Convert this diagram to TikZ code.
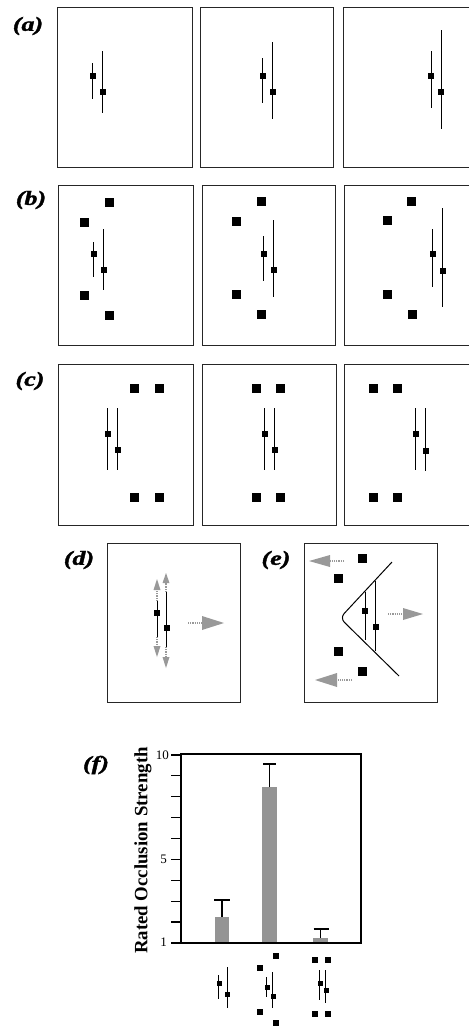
\documentclass[tikz,border=0pt]{standalone}
\usepackage{fontspec}
\setmainfont{Liberation Serif}
\newfontfamily\lblfont[FakeBold=1.5]{Liberation Serif}
\newcommand\sqs[3]{\fill (#1-#3/2,#2-#3/2) rectangle (#1+#3/2,#2+#3/2);}
\newcommand\plbl[1]{\scalebox{1.3}[1]{\fontsize{20}{20}\lblfont\bfseries\itshape #1}}
\tikzset{
  frame/.style={draw=black!85, line width=0.8pt},
  seg/.style={draw=black, line width=1pt},
  ghead/.style={fill=black!40},
  gshaft/.style={draw=black!40, densely dotted, line width=1.2pt},
  axisbox/.style={draw=black, line width=2.8pt},
  tick/.style={draw=black, line width=1.3pt},
  bar/.style={fill=black!42},
  err/.style={draw=black, line width=1.4pt},
  plabel/.style={inner sep=0pt}
}
\begin{document}
\begin{tikzpicture}[x=1pt,y=-1pt]
\useasboundingbox (0,0) rectangle (469,1028);
% ---------- labels ----------
\node[plabel] (la) at (28,26) {\plbl{(a)}};
\node[plabel] (lb) at (31,200) {\plbl{(b)}};
\node[plabel] (lc) at (30,381) {\plbl{(c)}};
\node[plabel] (ld) at (79,560) {\plbl{(d)}};
\node[plabel] (le) at (276,560) {\plbl{(e)}};
\node[plabel] (lf) at (96,765) {\plbl{(f)}};
% ---------- row (a) ----------
\draw[frame] (57,7) rectangle (192,167);
\draw[frame] (200,7) rectangle (333,167);
\draw[frame] (469,7) -- (343,7) -- (343,167) -- (469,167);
\draw[seg] (92,63) -- (92,99); \sqs{93}{76}{6}
\draw[seg] (102,51) -- (102,113); \sqs{103}{92}{6}
\draw[seg] (262,58) -- (262,103); \sqs{263}{76}{6}
\draw[seg] (272,42) -- (272,119); \sqs{273}{92}{6}
\draw[seg] (431,51) -- (431,108); \sqs{431}{76}{6}
\draw[seg] (441,30) -- (441,129); \sqs{441}{92}{6}
% ---------- row (b) ----------
\draw[frame] (58,185) rectangle (193,345);
\draw[frame] (202,185) rectangle (335,345);
\draw[frame] (469,185) -- (344,185) -- (344,345) -- (469,345);
\sqs{109}{202}{9} \sqs{84}{222}{9} \sqs{84}{295}{9} \sqs{109}{315}{9}
\draw[seg] (93,242) -- (93,277); \sqs{94}{254}{6}
\draw[seg] (103,229) -- (103,290); \sqs{104}{270}{6}
\sqs{261}{201}{9} \sqs{236}{221}{9} \sqs{236}{294}{9} \sqs{261}{314}{9}
\draw[seg] (263,236) -- (263,281); \sqs{264}{254}{6}
\draw[seg] (273,220) -- (273,297); \sqs{274}{270}{6}
\sqs{411}{201}{9} \sqs{387}{220}{9} \sqs{387}{294}{9} \sqs{412}{314}{9}
\draw[seg] (432,229) -- (432,287); \sqs{433}{254}{6}
\draw[seg] (442,208) -- (442,307); \sqs{443}{271}{6}
% ---------- row (c) ----------
\draw[frame] (58,364) rectangle (193,525);
\draw[frame] (202,364) rectangle (336,525);
\draw[frame] (469,364) -- (344,364) -- (344,525) -- (469,525);
\sqs{134}{388}{9} \sqs{159}{388}{9} \sqs{134}{497}{9} \sqs{159}{497}{9}
\draw[seg] (107,408) -- (107,470); \sqs{107.5}{434}{6}
\draw[seg] (117,408) -- (117,470); \sqs{117.5}{450}{6}
\sqs{256}{388}{9} \sqs{280}{388}{9} \sqs{256}{497}{9} \sqs{280}{497}{9}
\draw[seg] (264,408) -- (264,470); \sqs{264.5}{434}{6}
\draw[seg] (274,408) -- (274,470); \sqs{274.5}{450}{6}
\sqs{373}{388}{9} \sqs{397}{388}{9} \sqs{373}{497}{9} \sqs{397}{497}{9}
\draw[seg] (415,408) -- (415,470); \sqs{415.5}{434}{6}
\draw[seg] (425,408) -- (425,471); \sqs{425.5}{451}{6}
% ---------- panel (d) ----------
\draw[frame] (107,543) rectangle (240,702);
\draw[gshaft] (157,601) -- (157,590);
\fill[ghead] (157,579) -- (153.5,590) -- (160.5,590) -- cycle;
\draw[gshaft] (157,637) -- (157,646);
\fill[ghead] (157,657) -- (153.5,646) -- (160.5,646) -- cycle;
\draw[gshaft] (166,592) -- (166,583);
\fill[ghead] (166,573) -- (162.5,583) -- (169.5,583) -- cycle;
\draw[gshaft] (166,647) -- (166,657);
\fill[ghead] (166,668) -- (162.5,657) -- (169.5,657) -- cycle;
\draw[seg] (157,601) -- (157,637); \sqs{157}{613}{6}
\draw[seg] (166,592) -- (166,647); \sqs{167}{628}{6}
\draw[gshaft] (188,623) -- (202,623);
\fill[ghead] (224,623) -- (202,616) -- (202,630) -- cycle;
% ---------- panel (e) ----------
\draw[frame] (304,543) rectangle (437,702);
\sqs{362}{558}{9} \sqs{338}{578}{9} \sqs{338}{651}{9} \sqs{362}{671}{9}
\draw[seg, rounded corners=6pt] (392,562) -- (340,618) -- (399,676);
\draw[seg] (365,592) -- (365,640); \sqs{365}{611}{6}
\draw[seg] (375,581) -- (375,651); \sqs{376}{627}{6}
\draw[gshaft] (344,561) -- (330,561);
\fill[ghead] (309,561) -- (330,555) -- (330,567) -- cycle;
\draw[gshaft] (352,680) -- (337,680);
\fill[ghead] (315,680) -- (337,673) -- (337,687) -- cycle;
\draw[gshaft] (388,614) -- (403,614);
\fill[ghead] (423,614) -- (403,608) -- (403,620) -- cycle;
% ---------- chart (f) ----------
\fill[bar] (215,943) rectangle (229,917);
\fill[bar] (262,943) rectangle (277,787);
\fill[bar] (313,943) rectangle (328,938);
\draw[err] (222,917) -- (222,900) (214,900) -- (230,900);
\draw[err] (269.5,787) -- (269.5,764) (263,764) -- (276,764);
\draw[err] (320.5,938) -- (320.5,929) (313.5,929) -- (328.5,929);
\foreach \v in {1,...,10} {
  \draw[tick] (171,{943-(\v-1)*20.9}) -- (181,{943-(\v-1)*20.9});
}
\draw[axisbox] (181,754) rectangle (361,943);
\node[anchor=east, inner sep=0pt, font=\fontsize{13}{13}\selectfont] (t10) at (169,755) {10};
\node[anchor=east, inner sep=0pt, font=\fontsize{13}{13}\selectfont] (t5) at (167,859) {5};
\node[anchor=east, inner sep=0pt, font=\fontsize{13}{13}\selectfont] (t1) at (167,942) {1};
\node[rotate=90, inner sep=0pt, font=\fontsize{18.8}{19}\selectfont\bfseries] (ylab) at (143,850.5) {Rated Occlusion Strength};
% icons under bars
\draw[seg] (218,975) -- (218,999); \sqs{219}{983}{5}
\draw[seg] (227,967) -- (227,1008); \sqs{227}{994}{5}
\sqs{276}{956}{6} \sqs{260}{968}{6} \sqs{260}{1012}{6} \sqs{276}{1023}{6}
\draw[seg] (266,977) -- (266,997); \sqs{267}{987}{5}
\draw[seg] (272,972) -- (272,1008); \sqs{273}{996}{5}
\sqs{315}{960}{6} \sqs{328}{960}{6} \sqs{315}{1014}{6} \sqs{328}{1014}{6}
\draw[seg] (319,970) -- (319,1000); \sqs{320}{983}{5}
\draw[seg] (325,970) -- (325,1003); \sqs{326}{990}{5}
\end{tikzpicture}
\end{document}
